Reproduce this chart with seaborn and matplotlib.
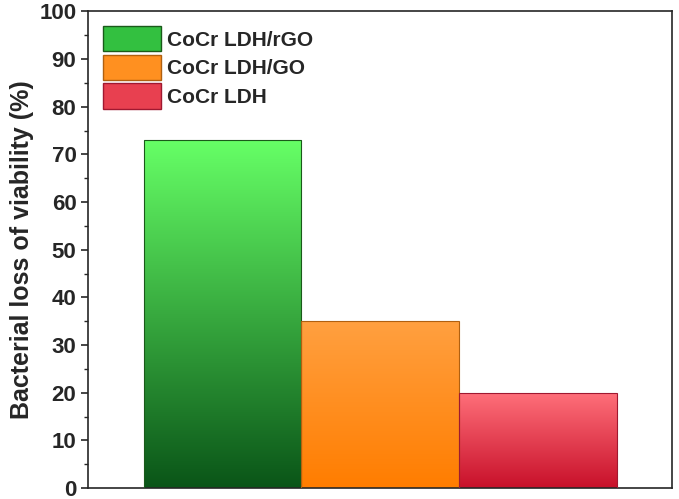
import numpy as np
import pandas as pd
import matplotlib
matplotlib.use("Agg")
import matplotlib.pyplot as plt
import seaborn as sns
from matplotlib.colors import LinearSegmentedColormap
from matplotlib.patches import Patch

categories = ["CoCr LDH/rGO", "CoCr LDH/GO", "CoCr LDH"]
values = [73, 35, 20]
tops = ["#66ff66", "#ffa040", "#ff707a"]
bottoms = ["#0a5518", "#ff7d00", "#c8102a"]
edges = ["#1a5a1a", "#b06010", "#a01830"]

sns.set_style("ticks")
plt.rcParams['font.family'] = ['Liberation Sans', 'DejaVu Sans']
fig = plt.figure(figsize=(6.79, 4.99), dpi=100)
ax = fig.add_axes([0.13, 0.022, 0.86, 0.955])
df = pd.DataFrame({"cat": categories, "val": values})
sns.barplot(data=df, x="cat", y="val", ax=ax, width=1.0, color="white")
for i, p in enumerate(ax.patches):
    x0, y0 = p.get_x(), p.get_y()
    w, h = p.get_width(), p.get_height()
    cmap = LinearSegmentedColormap.from_list("g", [bottoms[i], tops[i]])
    grad = np.linspace(0, 1, 256).reshape(-1, 1)
    im = ax.imshow(grad, cmap=cmap, origin="lower", aspect="auto",
                   extent=[x0, x0 + w, y0, y0 + h], zorder=2)
    im.set_clip_path(p)
    p.set_facecolor("none")
    p.set_edgecolor(edges[i])
    p.set_linewidth(0.8)
    p.set_zorder(3)
ax.set_aspect("auto")
ax.set_xlim(-0.85, 2.85)
ax.set_ylim(0, 100)
ax.set_xticks([])
ax.set_xlabel("")
ax.set_yticks(range(0, 101, 10))
ax.set_yticks(range(5, 100, 10), minor=True)
ax.tick_params(axis="y", labelsize=16, width=1.2, length=5, direction="out")
ax.tick_params(axis="y", which="minor", length=3, width=1)
for t in ax.get_yticklabels():
    t.set_fontweight("bold")
ax.set_ylabel("Bacterial loss of viability (%)", fontsize=18, fontweight="bold", labelpad=4)
for s in ax.spines.values():
    s.set_linewidth(1.2)
handles = [Patch(facecolor=c, edgecolor=e) for c, e in zip(["#33c040", "#ff9020", "#e84050"], edges)]
leg = ax.legend(handles, categories, loc="upper left", bbox_to_anchor=(0.0, 1.0),
                frameon=False, prop={"weight": "bold", "size": 15},
                handlelength=2.8, handleheight=1.5, labelspacing=0.15, handletextpad=0.3,
                borderaxespad=0.3)
fig.savefig("out.png", dpi=100)
